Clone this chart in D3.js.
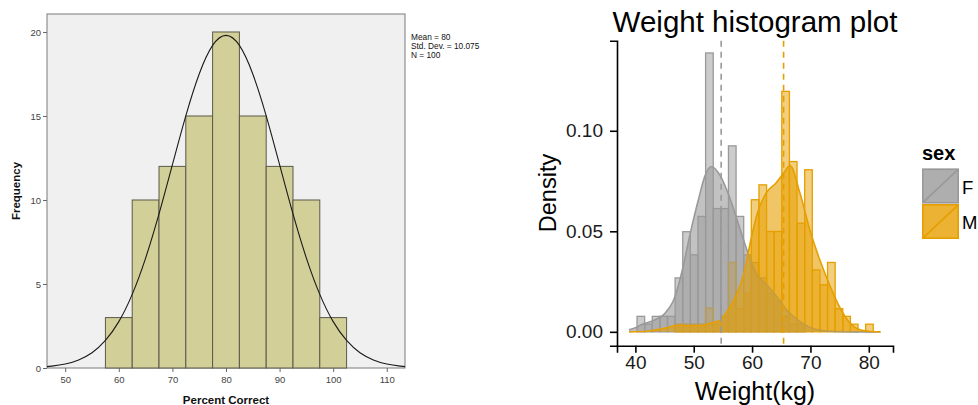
<!DOCTYPE html>
<html>
<head>
<meta charset="UTF-8">
<title>Histograms</title>
<script src="https://d3js.org/d3.v7.min.js"></script>
<style>
  body { margin: 0; background: #fff; }
  svg { display: block; font-family: "Liberation Sans", Arial, sans-serif; }
</style>
</head>
<body>
<svg id="chart" width="978" height="405"></svg>
<script>
// ---- left panel: Percent Correct (SPSS style) ----
const pctBinCenters = [60, 65, 70, 75, 80, 85, 90, 95, 100];
const pctFreq = [3, 10, 12, 15, 20, 15, 12, 10, 3];
const pctBinWidth = 5;
const pctCurveX = [46.6, 47.5, 50, 52.5, 55, 57.5, 60, 62.5, 65, 67.5, 70, 72.5, 75, 77.5, 80,
  82.5, 85, 87.5, 90, 92.5, 95, 97.5, 100, 102.5, 105, 107.5, 110, 112.5, 113.4];
const pctCurveY = [0.08, 0.11, 0.235, 0.48, 0.91, 1.64, 2.76, 4.38, 6.54, 9.17, 12.1, 15.01, 17.5, 19.2, 19.8,
  19.2, 17.5, 15.01, 12.1, 9.17, 6.54, 4.38, 2.76, 1.64, 0.91, 0.48, 0.235, 0.11, 0.08];
const pctYTicks = [0, 5, 10, 15, 20];
const pctXTicks = [50, 60, 70, 80, 90, 100, 110];
const pctStats = ["Mean = 80", "Std. Dev. = 10.075", "N = 100"];

// ---- right panel: weight by sex (ggplot style) ----
const binLo = 40.28, binW = 1.306;
const femaleDensity = [0.0077, 0.0038, 0.0077, 0.0077, 0.0077, 0.0268, 0.0498, 0.0383, 0.0574, 0.1387,
  0.0613, 0.0613, 0.0925, 0.0574, 0.0383, 0.0345, 0.0268, 0.0192, 0.0153, 0.0077,
  0.0038, 0.0038, 0, 0, 0, 0, 0, 0, 0, 0, 0];
const maleDensity = [0, 0, 0, 0, 0, 0.0038, 0.0038, 0.0038, 0.0038, 0.0118,
  0.0038, 0.0077, 0.0345, 0.0115, 0.0192, 0.0657, 0.0731, 0.0499, 0.0499, 0.1196,
  0.0847, 0.054, 0.0806, 0.0308, 0.0234, 0.0345, 0.0115, 0.0077, 0.0038, 0, 0.0038];
const femaleKdeX = [38.9, 40, 41, 43, 45, 46.8, 47.9, 49.4, 50.8, 51.9, 53, 54.6, 56.1, 57.8, 59.5,
  60.7, 62.5, 64.2, 65.9, 68.2, 71, 74, 78, 82];
const femaleKdeY = [0.001, 0.002, 0.0035, 0.0055, 0.009, 0.0176, 0.029, 0.049, 0.0657, 0.0773, 0.0822,
  0.0773, 0.0673, 0.0524, 0.0375, 0.029, 0.0234, 0.0176, 0.011, 0.0051, 0.0012, 0.0002, 0, 0];
const maleKdeX = [38.9, 42, 45, 47.4, 49, 51, 53.1, 54.4, 55.5, 57.2, 58.6, 59.8, 60.9, 62.4, 64.1,
  65.4, 66.5, 68.2, 69.9, 71.6, 73.4, 75.1, 76.8, 78.5, 80, 82];
const maleKdeY = [0, 0.0003, 0.0018, 0.0033, 0.003, 0.003, 0.0045, 0.0055, 0.0093, 0.0176, 0.029,
  0.0458, 0.059, 0.069, 0.074, 0.079, 0.0827, 0.069, 0.0507, 0.0358, 0.0225, 0.0118, 0.0043, 0.001, 0.0003, 0];
const sexes = ["F", "M"];
const sexColors = ["#999999", "#E69F00"];
const sexMeans = [54.7, 65.4];
const weightXTicks = [40, 50, 60, 70, 80];
const densityTicks = [0, 0.05, 0.10];

const svg = d3.select("#chart");

// ================= LEFT =================
const xL = d3.scaleLinear().domain([46.6, 113.4]).range([47, 405]);
const yL = d3.scaleLinear().domain([0, 21.07]).range([368, 14]);
const left = svg.append("g");

left.append("rect")
  .attr("x", 47).attr("y", 14).attr("width", 358).attr("height", 354)
  .attr("fill", "#f0f0f0").attr("stroke", "#7a7a7a").attr("stroke-width", 1);

left.selectAll("rect.bar").data(pctFreq).join("rect")
  .attr("class", "bar")
  .attr("x", (d, i) => xL(pctBinCenters[i] - pctBinWidth / 2))
  .attr("width", (d, i) => xL(pctBinCenters[i] + pctBinWidth / 2) - xL(pctBinCenters[i] - pctBinWidth / 2))
  .attr("y", d => yL(d))
  .attr("height", d => yL(0) - yL(d))
  .attr("fill", "#d3cf98").attr("stroke", "#5a5a4a").attr("stroke-width", 1);

left.append("path")
  .datum(pctCurveX.map((x, i) => [x, pctCurveY[i]]))
  .attr("d", d3.line().x(d => xL(d[0])).y(d => yL(d[1])).curve(d3.curveNatural))
  .attr("fill", "none").attr("stroke", "#1a1a1a").attr("stroke-width", 1.1);

const yAxL = left.append("g").attr("transform", "translate(47,0)")
  .call(d3.axisLeft(yL).tickValues(pctYTicks).tickSize(4).tickPadding(2));
const xAxL = left.append("g").attr("transform", "translate(0,368)")
  .call(d3.axisBottom(xL).tickValues(pctXTicks).tickSize(4).tickPadding(4));
[yAxL, xAxL].forEach(a => {
  a.select(".domain").remove();
  a.selectAll("line").attr("stroke", "#666");
  a.selectAll("text").attr("font-size", 9.5).attr("fill", "#444")
    .attr("font-family", "Liberation Sans, Arial, sans-serif");
});

left.append("text")
  .attr("transform", "translate(20,191) rotate(-90)")
  .attr("text-anchor", "middle").attr("font-size", 11.5).attr("font-weight", "bold")
  .attr("fill", "#111").text("Frequency");
left.append("text")
  .attr("x", 226).attr("y", 404)
  .attr("text-anchor", "middle").attr("font-size", 11.5).attr("font-weight", "bold")
  .attr("fill", "#111").text("Percent Correct");

left.selectAll("text.stat").data(pctStats).join("text")
  .attr("class", "stat")
  .attr("x", 411).attr("y", (d, i) => 39.5 + i * 9)
  .attr("font-size", 8.3).attr("fill", "#111").text(d => d);

// ================= RIGHT =================
const xR = d3.scaleLinear().domain([36.85, 84.15]).range([617, 893]);
const yR = d3.scaleLinear().domain([-0.0069, 0.1448]).range([345.7, 40.7]);
const right = svg.append("g");

const seriesBins = [femaleDensity, maleDensity];
// histogram bars (F then M)
seriesBins.forEach((vals, s) => {
  right.append("g").selectAll("rect").data(vals.map((v, i) => ({ v, i })).filter(d => d.v > 0)).join("rect")
    .attr("x", d => xR(binLo + d.i * binW))
    .attr("width", d => xR(binLo + (d.i + 1) * binW) - xR(binLo + d.i * binW))
    .attr("y", d => yR(d.v))
    .attr("height", d => yR(0) - yR(d.v))
    .attr("fill", sexColors[s]).attr("fill-opacity", 0.5)
    .attr("stroke", sexColors[s]).attr("stroke-width", 1.3);
});

// density curves
const kdes = [[femaleKdeX, femaleKdeY], [maleKdeX, maleKdeY]];
kdes.forEach(([xs, ys], s) => {
  const pts = xs.map((x, i) => [x, ys[i]]);
  right.append("path").datum(pts)
    .attr("d", d3.area().x(d => xR(d[0])).y0(yR(0)).y1(d => yR(d[1])).curve(d3.curveMonotoneX))
    .attr("fill", sexColors[s]).attr("fill-opacity", 0.6).attr("stroke", "none");
  right.append("path").datum(pts)
    .attr("d", d3.line().x(d => xR(d[0])).y(d => yR(d[1])).curve(d3.curveMonotoneX))
    .attr("fill", "none").attr("stroke", sexColors[s]).attr("stroke-width", 1.6);
});

// mean lines
sexMeans.forEach((m, s) => {
  right.append("line")
    .attr("x1", xR(m)).attr("x2", xR(m)).attr("y1", 40.7).attr("y2", 345.7)
    .attr("stroke", sexColors[s]).attr("stroke-width", 1.6).attr("stroke-dasharray", "6,5");
});

// axes
const yAxR = right.append("g").attr("transform", "translate(617,0)")
  .call(d3.axisLeft(yR).tickValues(densityTicks).tickFormat(d3.format(".2f")).tickSize(7).tickPadding(7));
const xAxR = right.append("g").attr("transform", "translate(0,345.7)")
  .call(d3.axisBottom(xR).tickValues(weightXTicks).tickSize(7).tickPadding(3));
[yAxR, xAxR].forEach(a => {
  a.select(".domain").attr("stroke", "#000").attr("stroke-width", 1.6);
  a.selectAll(".tick line").attr("stroke", "#000").attr("stroke-width", 1.6);
  a.selectAll("text").attr("font-size", 19).attr("fill", "#1a1a1a")
    .attr("font-family", "Liberation Sans, Arial, sans-serif");
});

right.append("text")
  .attr("x", 755).attr("y", 32).attr("text-anchor", "middle")
  .attr("font-size", 29.5).attr("fill", "#000").text("Weight histogram plot");
right.append("text")
  .attr("x", 755).attr("y", 400).attr("text-anchor", "middle")
  .attr("font-size", 25).attr("fill", "#000").text("Weight(kg)");
right.append("text")
  .attr("transform", "translate(556,193) rotate(-90)").attr("text-anchor", "middle")
  .attr("font-size", 23.5).attr("fill", "#000").text("Density");

// legend
const legend = right.append("g").attr("transform", "translate(922,0)");
legend.append("text").attr("x", 0).attr("y", 160)
  .attr("font-size", 20).attr("font-weight", "bold").attr("fill", "#000").text("sex");
sexes.forEach((sx, s) => {
  const ky = 168.5 + s * 35.5, ks = 37;
  const k = legend.append("g").attr("transform", `translate(0,${ky})`);
  k.append("rect").attr("width", ks).attr("height", 35)
    .attr("fill", sexColors[s]).attr("fill-opacity", 0.5);
  k.append("rect").attr("x", 0.8).attr("y", 0.8).attr("width", ks - 1.6).attr("height", 33.4)
    .attr("fill", sexColors[s]).attr("fill-opacity", 0.6)
    .attr("stroke", sexColors[s]).attr("stroke-width", 1.6);
  k.append("line").attr("x1", 0.8).attr("y1", 34.2).attr("x2", ks - 0.8).attr("y2", 0.8)
    .attr("stroke", sexColors[s]).attr("stroke-width", 1.6);
  k.append("text").attr("x", 40).attr("y", 25)
    .attr("font-size", 18.5).attr("fill", "#000").text(sx);
});
</script>
</body>
</html>
